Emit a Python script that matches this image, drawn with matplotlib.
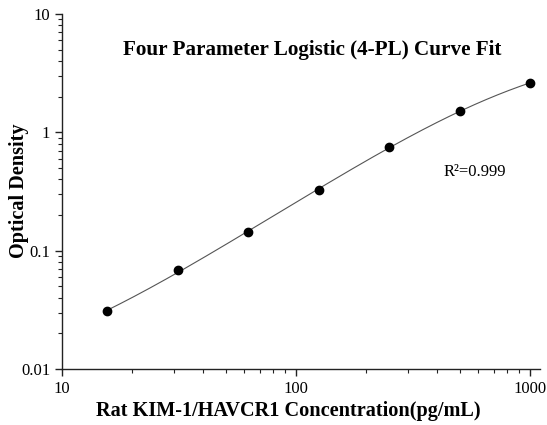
import numpy as np
import matplotlib
matplotlib.use("Agg")
import matplotlib.pyplot as plt
from matplotlib.ticker import FixedLocator, FixedFormatter, LogLocator, NullFormatter

conc = [15.6, 31.25, 62.5, 125, 250, 500, 1000]
od = [0.031, 0.068, 0.143, 0.327, 0.75, 1.52, 2.60]
x_ticks = [10, 100, 1000]
x_tick_labels = ["10", "100", "1000"]
y_ticks = [0.01, 0.1, 1, 10]
y_tick_labels = ["0.01", "0.1", "1", "10"]
title = "Four Parameter Logistic (4-PL) Curve Fit"
xlabel = "Rat KIM-1/HAVCR1 Concentration(pg/mL)"
ylabel = "Optical Density"
r2_text = "R\u00b2=0.999"

x = np.array(conc, float)
y = np.array(od, float)


def model(p, xx):
    a, b, lc, d = p
    return d + (a - d) / (1 + (xx / np.exp(lc)) ** b)


def resid(p):
    m = model(p, x)
    m = np.clip(m, 1e-9, None)
    return np.log(m) - np.log(y)


# simple Levenberg-Marquardt fit of 4PL
p = np.array([0.005, 1.2, np.log(800.0), 5.0])
lam = 1e-2
for _ in range(500):
    r = resid(p)
    J = np.zeros((len(x), 4))
    for k in range(4):
        dp = np.zeros(4)
        dp[k] = 1e-6 * max(1.0, abs(p[k]))
        J[:, k] = (resid(p + dp) - r) / dp[k]
    A = J.T @ J
    g = J.T @ r
    step = np.linalg.solve(A + lam * np.diag(np.diag(A) + 1e-12), -g)
    pn = p + step
    if pn[0] < 0:
        pn[0] = 0.0
    if np.sum(resid(pn) ** 2) < np.sum(r ** 2):
        p = pn
        lam *= 0.5
    else:
        lam *= 3

xc = np.logspace(np.log10(x[0]), np.log10(x[-1]), 300)
yc = model(p, xc)

plt.rcParams['font.family'] = ['Liberation Serif', 'DejaVu Serif']

fig = plt.figure(figsize=(5.47, 4.25), dpi=100)
ax = fig.add_axes([62 / 547, 56 / 425, 478 / 547, 355 / 425])
ax.plot(xc, yc, color='#555555', lw=0.8)
ax.plot(x, y, 'o', color='black', ms=6)

ax.set_xscale('log')
ax.set_yscale('log')
ax.set_xlim(10, 1103)
ax.set_ylim(0.01, 10)

ax.xaxis.set_major_locator(FixedLocator(x_ticks))
ax.xaxis.set_major_formatter(FixedFormatter(x_tick_labels))
ax.yaxis.set_major_locator(FixedLocator(y_ticks))
ax.yaxis.set_major_formatter(FixedFormatter(y_tick_labels))
ax.xaxis.set_minor_locator(LogLocator(base=10, subs=np.arange(2, 10)))
ax.yaxis.set_minor_locator(LogLocator(base=10, subs=np.arange(2, 10)))
ax.xaxis.set_minor_formatter(NullFormatter())
ax.yaxis.set_minor_formatter(NullFormatter())

for s in ['top', 'right']:
    ax.spines[s].set_visible(False)
for s in ['left', 'bottom']:
    ax.spines[s].set_linewidth(1.0)
    ax.spines[s].set_color('#222222')

ax.tick_params(which='major', direction='out', length=5, width=1, labelsize=12, colors='#222222', labelcolor='black')
ax.tick_params(which='minor', direction='out', length=3, width=0.8, colors='#222222')

fig.text(288 / 547, 1 - 411 / 425, xlabel, ha='center', va='center',
         fontsize=14.6, fontweight='bold')
fig.text(19 / 547, 1 - 191 / 425, ylabel, ha='center', va='center',
         rotation=90, fontsize=14.6, fontweight='bold')
fig.text(312.5 / 547, 1 - 50 / 425, title, ha='center', va='center',
         fontsize=15.2, fontweight='bold')
ax.text(0.864, 0.555, r2_text, transform=ax.transAxes, ha='center', va='center',
        fontsize=12)

fig.savefig('out.png', dpi=100)
